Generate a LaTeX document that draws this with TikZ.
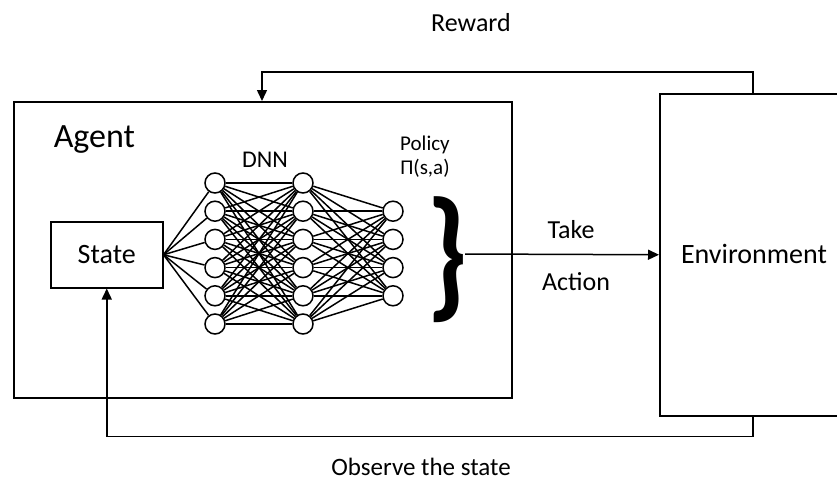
\documentclass[tikz,border=0pt]{standalone}
\usepackage{fontspec}
\setmainfont{Carlito}
\usetikzlibrary{arrows.meta}
\newcommand\fsz[1]{\fontsize{#1}{#1}\selectfont}
\begin{document}
\begin{tikzpicture}[x=1pt,y=-1pt,
  line width=1.5pt,
  neuron/.style={circle,draw,minimum size=20pt,inner sep=0pt,line width=1.5pt},
  box/.style={draw,line width=1.5pt,inner sep=0pt},
  lbl/.style={anchor=base,inner sep=0pt},
  arr/.style={-{Triangle[length=11pt,width=10pt]}},
  link/.style={line width=1.5pt}
]
\useasboundingbox (0,0) rectangle (837,482);
\clip (0,0) rectangle (837,482);

% boxes
\node[box,anchor=north west,minimum width=498pt,minimum height=296pt] (agent) at (13,101) {};
\node[box,anchor=north west,minimum width=190pt,minimum height=322pt] (env) at (659,93) {};
\node[font=\fsz{28},inner sep=0pt] (envlbl) at (754,254) {Environment};
\node[box,anchor=north west,minimum width=112pt,minimum height=66pt] (state) at (50,221) {};
\node[font=\fsz{28},inner sep=0pt] (statelbl) at (state.center) {State};

% labels
\node[lbl,font=\fsz{26}] (reward) at (471,31) {Reward};
\node[lbl,anchor=base west,font=\fsz{34}] (agentlbl) at (53,147) {Agent};
\node[lbl,font=\fsz{24}] (dnn) at (265,167) {DNN};
\node[lbl,font=\fsz{21}] (policy) at (425,150) {Policy};
\node[lbl,font=\fsz{21}] (pi) at (425,174) {Π(s,a)};
\node[lbl,font=\fsz{26}] (take) at (571,238) {Take};
\node[lbl,font=\fsz{26}] (action) at (576,290) {Action};
\node[lbl,font=\fsz{25}] (observe) at (421,475) {Observe the state};

% network
\foreach \k in {1,...,6} {
  \node[neuron] (a\k) at (215,{183+28.2*(\k-1)}) {};
  \node[neuron] (b\k) at (303,{183+28.2*(\k-1)}) {};
}
\foreach \k in {1,...,4} {
  \node[neuron] (c\k) at (393,{211.2+28.2*(\k-1)}) {};
}
\foreach \i in {1,...,6} {
  \draw[link] (state.east) -- (a\i);
  \foreach \j in {1,...,6} { \draw[link] (a\i) -- (b\j); }
  \foreach \j in {1,...,4} { \draw[link] (b\i) -- (c\j); }
}

% brace
\node[inner sep=0pt] (brace) at (447,260) {\resizebox*{42pt}{126pt}{\bfseries\}}};
\coordinate (bt) at (465,254);

% connectors
\draw[arr] (bt) -- (env.west);
\draw[arr] ([xshift=94pt]env.north west) -- ++(0,-21) -| ([xshift=249pt]agent.north west);
\draw[arr] ([xshift=94pt]env.south west) -- ++(0,20) -| (state.south);
\end{tikzpicture}
\end{document}
